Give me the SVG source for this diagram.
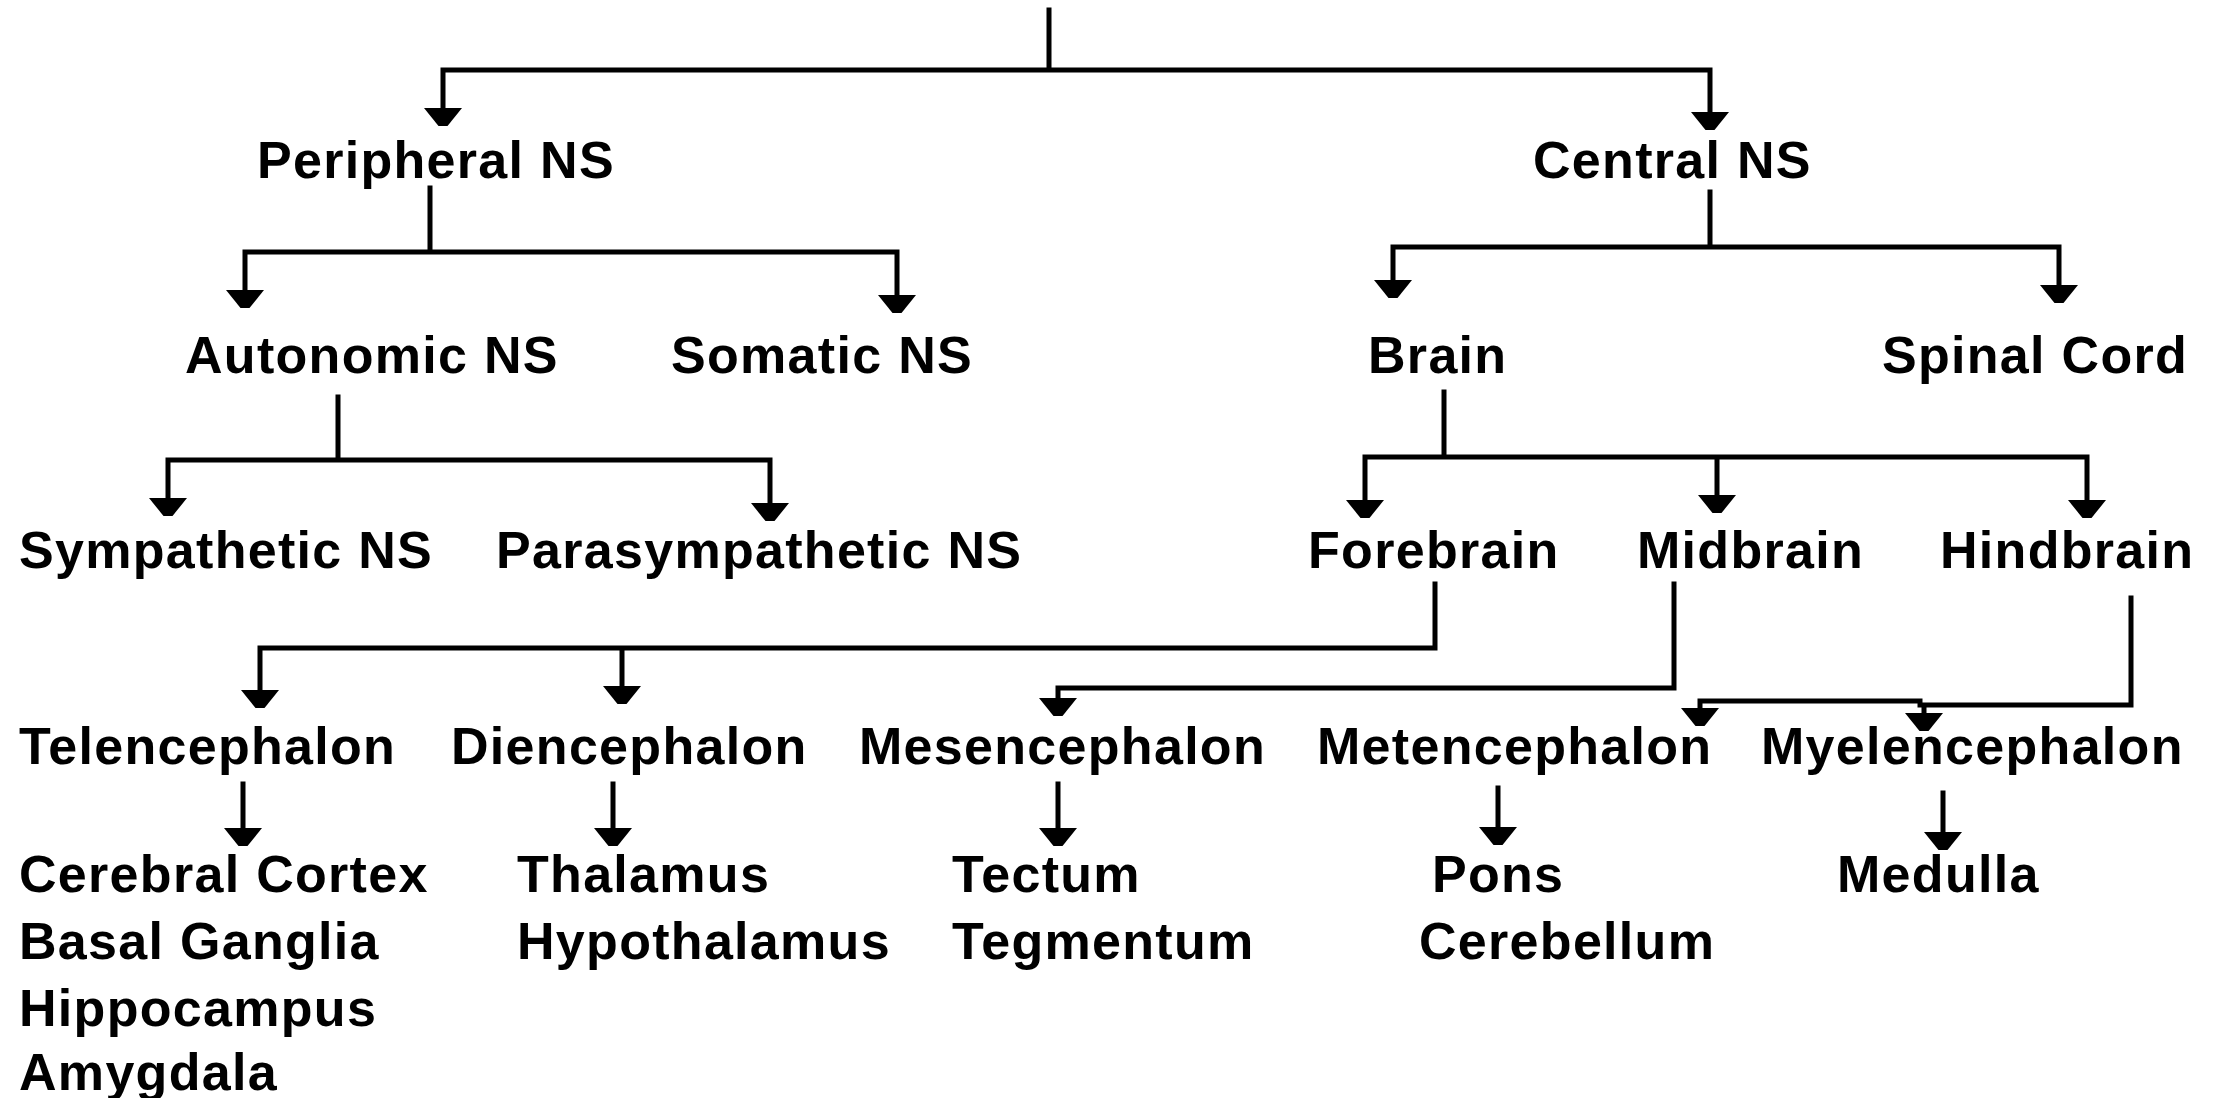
<svg xmlns="http://www.w3.org/2000/svg" xmlns:xlink="http://www.w3.org/1999/xlink" width="2221" height="1098" viewBox="0 0 2221 1098">
<style>
.t{font-family:"Liberation Sans",Arial,sans-serif;font-weight:bold;font-size:52px;letter-spacing:1.3px;fill:#000}
.c{fill:none;stroke:#000;stroke-width:5;stroke-linecap:square}
</style>
<defs>
<polygon id="ah" points="-19,0 19,0 4.5,18 -4.5,18" fill="#000"/>
</defs>
<rect width="2221" height="1098" fill="#fff"/>
<g id="connectors">
<path class="c" d="M1049,10 V70 M443,108 V70 H1710 V112"/>
<path class="c" d="M430,188 V252 M245,290 V252 H897 V295"/>
<path class="c" d="M1710,192 V247 M1393,280 V247 H2059 V285"/>
<path class="c" d="M338,397 V460 M168,498 V460 H770 V503"/>
<path class="c" d="M1444,392 V457 M1365,500 V457 H2087 V500 M1717,457 V495"/>
<path class="c" d="M1435,584 V648 H260 V690 M622,648 V686"/>
<path class="c" d="M1674,584 V688 H1058 V698"/>
<path class="c" d="M2131,598 V705 H1920 V701 H1700 V708 M1924,705 V713"/>
<path class="c" d="M243,784 V830 M613,784 V830 M1058,784 V830 M1498,788 V828 M1943,793 V833"/>
<use href="#ah" x="443" y="108"/>
<use href="#ah" x="1710" y="112"/>
<use href="#ah" x="245" y="290"/>
<use href="#ah" x="897" y="295"/>
<use href="#ah" x="1393" y="280"/>
<use href="#ah" x="2059" y="285"/>
<use href="#ah" x="168" y="498"/>
<use href="#ah" x="770" y="503"/>
<use href="#ah" x="1365" y="500"/>
<use href="#ah" x="1717" y="495"/>
<use href="#ah" x="2087" y="500"/>
<use href="#ah" x="260" y="690"/>
<use href="#ah" x="622" y="686"/>
<use href="#ah" x="1058" y="698"/>
<use href="#ah" x="1700" y="708"/>
<use href="#ah" x="1924" y="713"/>
<use href="#ah" x="243" y="828"/>
<use href="#ah" x="613" y="828"/>
<use href="#ah" x="1058" y="828"/>
<use href="#ah" x="1498" y="827"/>
<use href="#ah" x="1943" y="832"/>
</g>
<g id="peripheral"><text class="t" x="257" y="178">Peripheral NS</text></g>
<g id="central"><text class="t" x="1533" y="178">Central NS</text></g>
<g id="autonomic"><text class="t" x="185" y="373">Autonomic NS</text></g>
<g id="somatic"><text class="t" x="671" y="373">Somatic NS</text></g>
<g id="brain"><text class="t" x="1368" y="373">Brain</text></g>
<g id="spinal"><text class="t" x="1882" y="373">Spinal Cord</text></g>
<g id="sympathetic"><text class="t" x="19" y="568">Sympathetic NS</text></g>
<g id="parasympathetic"><text class="t" x="496" y="568">Parasympathetic NS</text></g>
<g id="forebrain"><text class="t" x="1308" y="568">Forebrain</text></g>
<g id="midbrain"><text class="t" x="1637" y="568">Midbrain</text></g>
<g id="hindbrain"><text class="t" x="1940" y="568">Hindbrain</text></g>
<g id="telencephalon"><text class="t" x="19" y="764">Telencephalon</text></g>
<g id="diencephalon"><text class="t" x="451" y="764">Diencephalon</text></g>
<g id="mesencephalon"><text class="t" x="859" y="764">Mesencephalon</text></g>
<g id="metencephalon"><text class="t" x="1317" y="764">Metencephalon</text></g>
<g id="myelencephalon"><text class="t" x="1761" y="764">Myelencephalon</text></g>
<g id="telencephalon-parts">
<text class="t" x="19" y="892">Cerebral Cortex</text>
<text class="t" x="19" y="959">Basal Ganglia</text>
<text class="t" x="19" y="1026">Hippocampus</text>
<text class="t" x="19" y="1090">Amygdala</text>
</g>
<g id="diencephalon-parts">
<text class="t" x="517" y="892">Thalamus</text>
<text class="t" x="517" y="959">Hypothalamus</text>
</g>
<g id="mesencephalon-parts">
<text class="t" x="952" y="892">Tectum</text>
<text class="t" x="952" y="959">Tegmentum</text>
</g>
<g id="metencephalon-parts">
<text class="t" x="1432" y="892">Pons</text>
<text class="t" x="1419" y="959">Cerebellum</text>
</g>
<g id="myelencephalon-parts"><text class="t" x="1837" y="892">Medulla</text></g>
</svg>
